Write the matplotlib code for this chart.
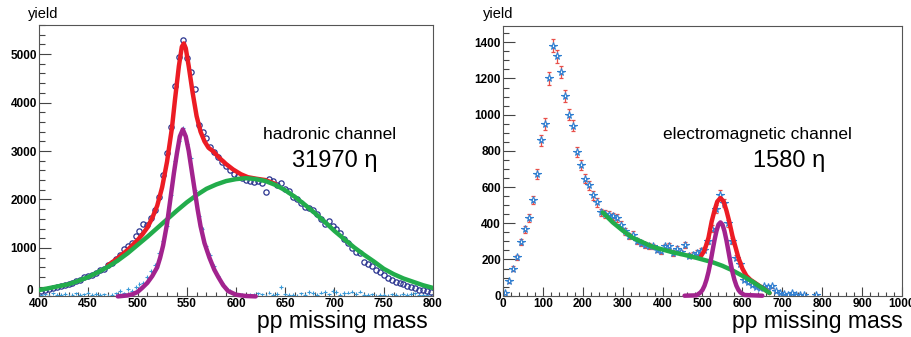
import numpy as np
import matplotlib
matplotlib.use('Agg')
import matplotlib.pyplot as plt
from matplotlib.ticker import MultipleLocator

plt.rcParams['font.family'] = ['Liberation Sans', 'DejaVu Sans']

# ---------------- hadronic channel (left) ----------------
had_bins = np.arange(402, 800, 4)
had_counts = [110, 140, 150, 170, 190, 210, 230, 260, 280, 320,
              330, 400, 430, 450, 480, 545, 560, 650, 690, 780,
              860, 980, 1050, 1100, 1250, 1340, 1500, 1480, 1620, 1780,
              2060, 2500, 2950, 3500, 4350, 4950, 5300, 4910, 4630, 4280,
              3540, 3400, 3260, 3080, 2980, 2880, 2780, 2700, 2600, 2530,
              2480, 2440, 2400, 2380, 2360, 2380, 2340, 2150, 2420, 2380,
              2300, 2350, 2220, 2180, 2060, 2000, 1930, 1850, 1830, 1780,
              1700, 1600, 1500, 1550, 1460, 1400, 1300, 1190, 1110, 1000,
              920, 900, 700, 660, 620, 540, 500, 440, 380, 340,
              300, 270, 250, 220, 190, 170, 140, 130, 110, 90]
# background-subtracted signal
had_signal = [20, 40, 10, 60, 30, 20, 50, 10, 30, 60,
              20, 40, 80, 30, 50, 20, 40, 10, 30, 60,
              110, 60, 150, 120, 200, 250, 280, 400, 520, 650,
              900, 1150, 1450, 2100, 2800, 3200, 3480, 3150, 2850, 2200,
              1650, 1400, 1050, 850, 620, 430, 280, 170, 120, 60,
              40, 20, 10, 30, 20, 60, 40, 10, 80, 30,
              50, 190, 40, 20, 30, 10, 60, 20, 90, 70,
              30, 80, 100, 40, 110, 90, 30, 70, 80, 100,
              50, 100, 30, 20, 40, 10, 20, 30, 10, 40,
              20, 10, 40, 20, 50, 60, 30, 20, 30, 10]

had_bg_x = [400, 410, 420, 430, 440, 450, 460, 470, 480, 490, 500, 510, 520,
            530, 540, 550, 560, 570, 580, 590, 600, 610, 620, 630, 640, 650,
            660, 670, 680, 690, 700, 710, 720, 730, 740, 750, 760, 770, 780,
            790, 800]
had_bg_y = [130, 170, 210, 250, 320, 400, 500, 610, 740, 890, 1060, 1230, 1410,
            1590, 1770, 1940, 2090, 2220, 2310, 2380, 2420, 2440, 2420, 2380,
            2300, 2190, 2050, 1890, 1720, 1540, 1350, 1180, 1010, 860, 720,
            570, 460, 370, 300, 230, 175]

had_eta_x = [480, 490, 495, 500, 505, 510, 515, 520, 523, 526, 530, 534, 537,
             540, 543, 546, 549, 552, 555, 558, 561, 564, 568, 573, 578, 582,
             587, 592, 600, 610, 620]
had_eta_y = [0, 20, 45, 90, 180, 280, 420, 600, 800, 1050, 1500, 2100, 2550,
             2950, 3300, 3445, 3300, 3000, 2600, 2200, 1800, 1450, 1100, 800,
             550, 400, 230, 110, 35, 8, 0]

had_sum_x = [470, 480, 490, 500, 505, 510, 515, 520, 525, 530, 535, 538, 542,
             545, 547, 549, 552, 556, 560, 564, 568, 572, 577, 583, 590, 597,
             605, 612, 620, 630, 640]
had_sum_y = [640, 790, 960, 1160, 1280, 1420, 1620, 1870, 2250, 2780, 3480,
             4050, 4750, 5150, 5220, 5120, 4750, 4200, 3720, 3400, 3200, 3070,
             2990, 2860, 2730, 2620, 2520, 2460, 2430, 2400, 2320]

# ---------------- electromagnetic channel (right) ----------------
em_bins = np.arange(5, 800, 10)
em_counts = [15, 80, 150, 212, 295, 368, 428, 528, 672, 858,
             948, 1200, 1382, 1322, 1235, 1101, 1000, 940, 795, 720,
             646, 610, 555, 515, 460, 450, 445, 438, 430, 392,
             355, 330, 338, 300, 292, 278, 274, 272, 255, 245,
             272, 274, 236, 258, 240, 282, 222, 226, 236, 245,
             255, 300, 370, 480, 558, 512, 400, 300, 210, 175,
             88, 75, 60, 50, 45, 52, 48, 52, 24, 15,
             10, 6, 14, 5, 6, 2, 0, 0, 2, 0]
em_errors = [4, 9, 12, 15, 17, 19, 21, 23, 26, 29,
             31, 35, 37, 36, 35, 33, 32, 31, 28, 27,
             25, 25, 24, 23, 21, 21, 21, 21, 21, 20,
             19, 18, 18, 17, 17, 17, 17, 16, 16, 16,
             16, 17, 15, 16, 15, 17, 15, 15, 15, 16,
             16, 17, 19, 22, 24, 23, 20, 17, 14, 13,
             9, 9, 8, 7, 7, 7, 7, 7, 5, 4,
             3, 2, 4, 2, 2, 1, 0, 0, 1, 0]

em_bg_x = [250, 275, 300, 325, 350, 375, 400, 425, 450, 475, 500, 525, 550,
           575, 600, 625, 650, 668]
em_bg_y = [460, 405, 360, 320, 295, 270, 255, 240, 228, 215, 200, 185, 165,
           140, 110, 78, 42, 15]

em_eta_x = [455, 485, 495, 500, 505, 510, 515, 520, 525, 530, 535, 540, 545,
            550, 555, 560, 565, 570, 575, 580, 585, 590, 595, 605, 650]
em_eta_y = [0, 2, 18, 32, 55, 88, 131, 185, 246, 306, 357, 393, 405, 393,
            357, 306, 246, 185, 131, 88, 55, 32, 18, 4, 0]

em_sum_x = [495, 505, 515, 523, 530, 537, 545, 553, 560, 567, 575, 585, 590,
            595, 600, 610, 620, 640, 660, 668]
em_sum_y = [215, 250, 320, 410, 470, 520, 540, 520, 470, 410, 330, 250, 210,
            180, 150, 110, 88, 58, 28, 14]

RED = '#ec1c24'
GREEN = '#22ac4b'
MAGENTA = '#a2238e'
NAVY = '#2b3590'
LBLUE = '#3a9ad9'
STAR = '#2f7fd1'
ERR_RED = '#e8504a'
LW = 3.2

fig = plt.figure(figsize=(9.12, 3.37), dpi=100)
W, H = 912.0, 337.0


def style_axes(ax, xmaj, xmin, ymaj, ymin):
    ax.xaxis.set_major_locator(MultipleLocator(xmaj))
    ax.xaxis.set_minor_locator(MultipleLocator(xmin))
    ax.yaxis.set_major_locator(MultipleLocator(ymaj))
    ax.yaxis.set_minor_locator(MultipleLocator(ymin))
    ax.tick_params(which='both', direction='in', top=False, right=False,
                   width=0.8, color='#444444')
    ax.tick_params(axis='x', which='major', length=6.5, pad=1.5)
    ax.tick_params(axis='x', which='minor', length=3.2)
    ax.tick_params(axis='y', which='major', length=8.6, pad=1.5)
    ax.tick_params(axis='y', which='minor', length=4.3)
    for lab in ax.get_xticklabels() + ax.get_yticklabels():
        lab.set_fontsize(8.5)
        lab.set_fontweight('bold')
    for sp in ax.spines.values():
        sp.set_linewidth(0.8)
        sp.set_color('#555555')


# ---- left panel ----
ax1 = fig.add_axes([39 / W, 1 - 296.4 / H, 394 / W, 271.4 / H])
ax1.errorbar(had_bins, had_signal, xerr=2, yerr=40, fmt='none',
             ecolor=LBLUE, elinewidth=0.8, zorder=2)
ax1.plot(had_bins, had_counts, 'o', ms=3.8, mfc='none', mec=NAVY, mew=0.9,
         zorder=2)
ax1.plot(had_sum_x, had_sum_y, color=RED, lw=LW, zorder=3,
         solid_capstyle='round')
ax1.plot(had_bg_x, had_bg_y, color=GREEN, lw=LW, zorder=4,
         solid_capstyle='round')
ax1.plot(had_eta_x, had_eta_y, color=MAGENTA, lw=LW, zorder=5,
         clip_on=False, solid_capstyle='round')
ax1.set_xlim(400, 800)
ax1.set_ylim(0, 5600)
style_axes(ax1, 50, 10, 1000, 200)
ax1.set_yticks([0, 1000, 2000, 3000, 4000, 5000])
ax1.set_yticklabels(['', '1000', '2000', '3000', '4000', '5000'],
                    fontsize=8.5, fontweight='bold')
ax1.annotate('0', xy=(0, 0), xycoords=('axes fraction', 'data'),
             xytext=(-4, 4), textcoords='offset points', ha='right',
             va='center', fontsize=8.5, fontweight='bold')

# ---- right panel ----
ax2 = fig.add_axes([503 / W, 1 - 295.7 / H, 399 / W, 269.7 / H])
em_counts_a = np.array(em_counts, dtype=float)
em_errors_a = np.array(em_errors, dtype=float)
keep = em_counts_a > 0
ax2.errorbar(em_bins[keep], em_counts_a[keep], yerr=em_errors_a[keep],
             fmt='none', ecolor=ERR_RED, elinewidth=0.9, capsize=1.6,
             capthick=0.9, zorder=2)
ax2.plot(em_bins[keep], em_counts_a[keep], '*', ms=5.5, mfc='white',
         mec=STAR, mew=0.8, zorder=2.5)
ax2.plot(em_sum_x, em_sum_y, color=RED, lw=LW, zorder=3,
         solid_capstyle='round')
ax2.plot(em_bg_x, em_bg_y, color=GREEN, lw=LW, zorder=4,
         solid_capstyle='round')
ax2.plot(em_eta_x, em_eta_y, color=MAGENTA, lw=LW, zorder=5,
         clip_on=False, solid_capstyle='round')
ax2.set_xlim(0, 1000)
ax2.set_ylim(0, 1490)
style_axes(ax2, 100, 20, 200, 50)

# ---- texts ----
def ftext(x, y, s, **kw):
    fig.text(x / W, 1 - y / H, s, **kw)


ftext(28, 14, 'yield', fontsize=10.5, va='center', ha='left')
ftext(483, 14, 'yield', fontsize=10.5, va='center', ha='left')
ftext(428, 328, 'pp missing mass', fontsize=16.5, ha='right', va='baseline')
ftext(903, 328, 'pp missing mass', fontsize=16.5, ha='right', va='baseline')
ftext(263, 139, 'hadronic channel', fontsize=12.5, ha='left', va='baseline')
ftext(292, 167, '31970 η', fontsize=17, ha='left', va='baseline')
ftext(663, 139, 'electromagnetic channel', fontsize=12.5, ha='left',
      va='baseline')
ftext(753, 167, '1580 η', fontsize=17, ha='left', va='baseline')

fig.savefig('out.png', dpi=100)
